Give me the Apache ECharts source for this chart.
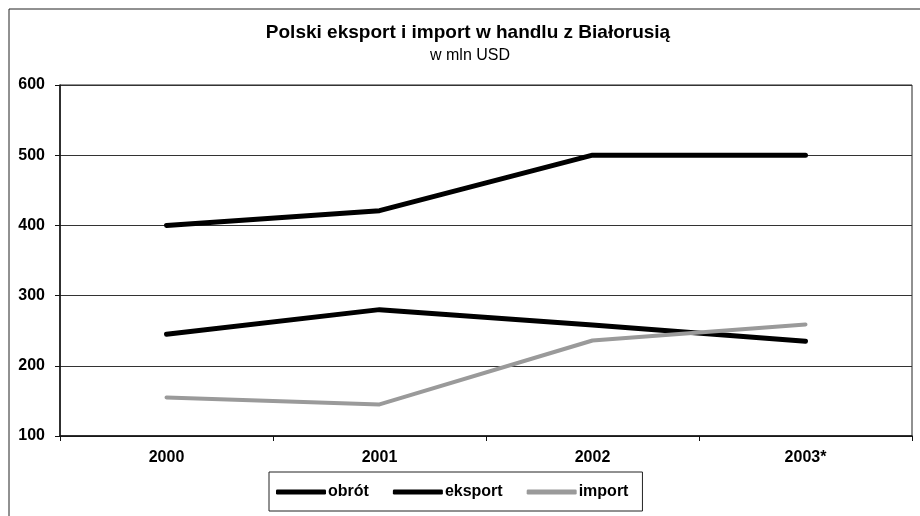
<!DOCTYPE html>
<html>
<head>
<meta charset="utf-8">
<script src="https://cdn.jsdelivr.net/npm/echarts@6/dist/echarts.min.js"></script>
<style>html,body{margin:0;padding:0;background:#fff}#c{width:920px;height:516px}</style>
</head>
<body>
<div id="c"></div>
<script>
const titleText = 'Polski eksport i import w handlu z Białorusią';
const subtitleText = 'w mln USD';
const categories = ['2000', '2001', '2002', '2003*'];
const obrot = [400, 421, 500, 500];
const eksport = [245, 280, 258, 235];
const importV = [155, 145, 236, 259];
const seriesNames = ['obrót', 'eksport', 'import'];

const chart = echarts.init(document.getElementById('c'));
const font = '"Liberation Sans", Arial, sans-serif';
chart.setOption({
  animation: false,
  backgroundColor: '#fff',
  graphic: [
    { type: 'rect', shape: { x: 9, y: 9, width: 930, height: 530 }, style: { fill: null, stroke: '#222', lineWidth: 1 }, silent: true },
    { type: 'text', x: 468, y: 33, style: { text: titleText, fill: '#000', font: 'bold 19px ' + font, textAlign: 'center', textVerticalAlign: 'middle' } },
    { type: 'text', x: 470, y: 56, style: { text: subtitleText, fill: '#000', font: '16px ' + font, textAlign: 'center', textVerticalAlign: 'middle' } }
  ],
  grid: { left: 60, right: 8, top: 85, bottom: 80, show: true, borderColor: '#222', borderWidth: 1, backgroundColor: '#fff' },
  legend: {
    data: seriesNames,
    left: 269, top: 472,
    padding: [12, 14, 11, 7],
    itemWidth: 50, itemHeight: 5, itemGap: 24,
    icon: 'roundRect',
    borderColor: '#222', borderWidth: 1, borderRadius: 0,
    textStyle: { fontSize: 16, fontWeight: 'bold', color: '#000', fontFamily: font, padding: [0, 0, 0, -3] }
  },
  xAxis: {
    type: 'category', data: categories, boundaryGap: true,
    axisLine: { lineStyle: { color: '#111', width: 1.5 } },
    axisTick: { show: true, length: 5, lineStyle: { color: '#111' } },
    axisLabel: { color: '#000', fontSize: 16, fontWeight: 'bold', fontFamily: font, margin: 14 },
    splitLine: { show: false }
  },
  yAxis: {
    type: 'value', min: 100, max: 600, interval: 100,
    axisLine: { show: true, lineStyle: { color: '#111', width: 1.5 } },
    axisTick: { show: true, length: 5, lineStyle: { color: '#111' } },
    axisLabel: { color: '#000', fontSize: 16, fontWeight: 'bold', fontFamily: font, margin: 15 },
    splitLine: { show: true, lineStyle: { color: '#333', width: 1 } }
  },
  series: [
    { name: seriesNames[0], type: 'line', data: obrot, symbol: 'none', itemStyle: { color: '#000' }, lineStyle: { color: '#000', width: 5, cap: 'round', join: 'round' } },
    { name: seriesNames[1], type: 'line', data: eksport, symbol: 'none', itemStyle: { color: '#000' }, lineStyle: { color: '#000', width: 5, cap: 'round', join: 'round' } },
    { name: seriesNames[2], type: 'line', data: importV, symbol: 'none', itemStyle: { color: '#9a9a9a' }, lineStyle: { color: '#9a9a9a', width: 4, cap: 'round', join: 'round' } }
  ]
});
</script>
</body>
</html>
